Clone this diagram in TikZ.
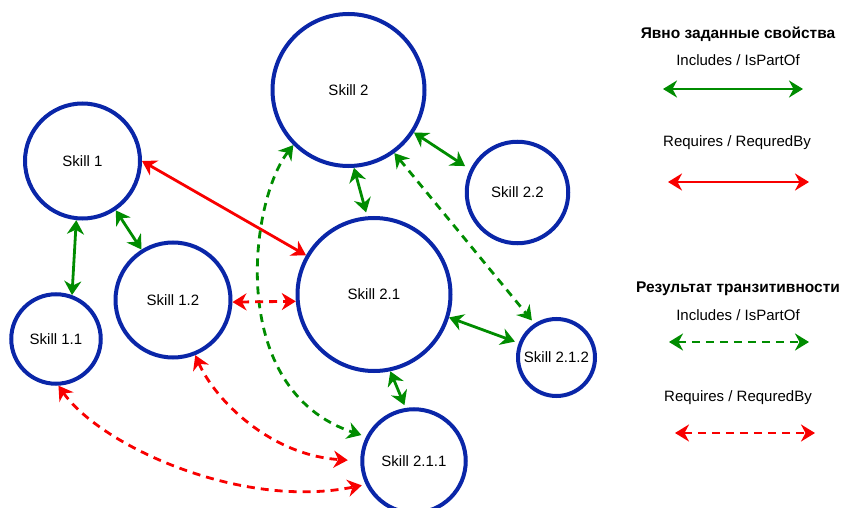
\documentclass[tikz,border=0pt]{standalone}
\usepackage{fontspec}
\setmainfont{Liberation Sans}
\usetikzlibrary{arrows.meta}

\definecolor{skillblue}{RGB}{10,38,168}
\definecolor{relgreen}{RGB}{0,140,0}
\definecolor{relred}{RGB}{248,0,0}

\tikzset{
  skill/.style={circle, draw=skillblue, line width=4pt, inner sep=0pt,
    font=\fontsize{15}{18}\selectfont, text=black},
  rel/.style={line width=2.8pt,
    {Stealth[length=14pt, width=17pt, inset=4.5pt]}-{Stealth[length=14pt, width=17pt, inset=4.5pt]}},
  includes/.style={rel, relgreen},
  requires/.style={rel, relred},
  derived/.style={dash pattern=on 8pt off 6pt},
  legendtext/.style={font=\fontsize{15}{18}\selectfont, text=black, inner sep=0pt},
  legendtitle/.style={font=\fontsize{15.5}{18}\selectfont\bfseries, text=black, inner sep=0pt},
}

\begin{document}
\begin{tikzpicture}[x=1pt, y=-1pt]
  \useasboundingbox (0,0) rectangle (844,508);

  % skills
  \node[skill, minimum size=152pt] (s2)   at (348.5,90)  {Skill 2};
  \node[skill, minimum size=115pt] (s1)   at (82.5,161)  {Skill 1};
  \node[skill, minimum size=101.5pt] (s22) at (517.5,192.5) {Skill 2.2};
  \node[skill, minimum size=115pt] (s12)  at (173,300)   {Skill 1.2};
  \node[skill, minimum size=153pt] (s21)  at (374,294.5) {Skill 2.1};
  \node[skill, minimum size=89.5pt] (s11) at (56,339)    {Skill 1.1};
  \node[skill, minimum size=77pt] (s212)  at (556.5,357.5) {Skill 2.1.2};
  \node[skill, minimum size=103.5pt] (s211) at (414,461) {Skill 2.1.1};

  % explicit relations
  \draw[requires] (s1.0) -- (s21.150.8);
  \draw[includes] (s1.264.7) -- (s11.70.8);
  \draw[includes] (s1.-56.4) -- (s12.122.9);
  \draw[includes, shorten >=4pt] (s2.-86.7) -- (s21.95.5);
  \draw[includes, shorten >=6pt] (s2.-33.5) -- (s22.154.1);
  \draw[includes, shorten >=4pt] (s21.-17.9) -- (s212.159.5);
  \draw[includes, shorten >=3pt] (s21.-78.5) -- (s211.99.1);

  % transitive relations
  \draw[includes, derived, shorten >=4pt] (s2.-54.1) -- (s212.123.2);
  \draw[includes, derived, shorten >=5pt] (s2.225.3)
    .. controls (250,200) and (225,390) .. (s211.153.4);
  \draw[requires, derived] (s12.-2) -- (s21.185.5);
  \draw[requires, derived, shorten >=12.5pt] (s12.-68.8)
    .. controls (215,400) and (270,455) .. (s211.180);
  \draw[requires, derived, shorten >=4pt] (s11.-87.6)
    .. controls (100,445) and (240,510) .. (s211.206.6);

  % legend
  \node[legendtitle] (t1) at (738,34) {Явно заданные свойства};
  \node[legendtext] (l1) at (738,60) {Includes / IsPartOf};
  \coordinate (a1) at (663,89);  \coordinate (b1) at (803,89);
  \draw[includes] (a1) -- (b1);
  \node[legendtext] (l2) at (737,143) {Requires / RequredBy};
  \coordinate (a2) at (668,182); \coordinate (b2) at (809,182);
  \draw[requires] (a2) -- (b2);

  \node[legendtitle] (t2) at (738,289) {Результат транзитивности};
  \node[legendtext] (l3) at (738,315) {Includes / IsPartOf};
  \coordinate (a3) at (669,342); \coordinate (b3) at (809,342);
  \draw[includes, derived] (a3) -- (b3);
  \node[legendtext] (l4) at (738,398) {Requires / RequredBy};
  \coordinate (a4) at (675,433); \coordinate (b4) at (815,433);
  \draw[requires, derived] (a4) -- (b4);
\end{tikzpicture}
\end{document}
